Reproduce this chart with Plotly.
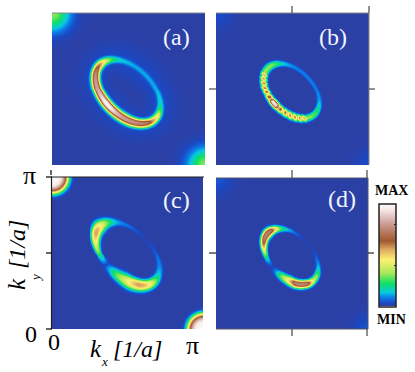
import numpy as np
import plotly.graph_objects as go

W, H = 415, 372
PI = np.pi

# --- values ---
panel_names = ["(a)", "(b)", "(c)", "(d)"]
panel_boxes = [(52, 205, 13, 165), (216, 369, 13, 165), (52, 203, 177, 329), (216, 368, 178, 329)]

# ring geometry in k units: centre kx, centre ky, semi-major, semi-minor
ring_a = (1.55, 1.53, 0.80, 0.50)
ring_b = (1.54, 1.54, 0.68, 0.44)
ring_c = (1.56, 1.57, 0.80, 0.48)
ring_d = (1.54, 1.52, 0.68, 0.44)

# intensity read around each ring, from the lower-right tip,
# through the upper-right flank, upper-left tip and lower-left flank
amp_a = [.46, .38, .24, .15, .12, .10, .09, .08, .08, .08, .08, .08, .09, .10, .13, .20, .30, .42,
         .54, .62, .70, .74, .76, .78, .82, .88, .96, .92, .84, .78, .76, .74, .72, .70, .66, .56]
amp_b = [.26, .24, .22, .20, .17, .15, .13, .11, .10, .09, .09, .08, .08, .08, .08, .08, .08, .08,
         .08, .08, .08, .08, .08, .09, .09, .10, .11, .12, .14, .16, .20, .24, .26, .28, .30, .30,
         .30, .31, .32, .33, .58, .34, .60, .34, .62, .36, .64, .36, .66, .38, .70, .52, .94, .94,
         .90, .52, .66, .38, .64, .36, .62, .36, .62, .34, .60, .34, .58, .32, .30, .30, .28, .27]
amp_c = [.30, .20, .13, .10, .08, .07, .05, .04, .02, .01, .04, .05, .07, .08, .11, .18, .28, .38,
         .46, .54, .56, .50, .42, .34, .26, .14, .03, .14, .26, .34, .42, .50, .56, .54, .48, .40]
amp_d = [.36, .32, .24, .15, .10, .07, .04, .02, .01, .01, .03, .05, .09, .12, .20, .32, .52, .70,
         .74, .74, .72, .62, .48, .34, .20, .08, .01, .10, .26, .38, .52, .70, .74, .74, .72, .54]

# ring width (sigma, in k units), equal angle steps, short list per panel
width_a = [.058, .040, .040, .062, .068, .072]
width_b = [.050, .034, .036, .058, .048, .056]
width_c = [.072, .032, .032, .100, .040, .100]
width_d = [.054, .030, .030, .070, .036, .070]

# corner spots: peak at (0, pi), peak at (pi, 0), radius, profile power
corner_a = (.30, .30, .34, 1.0)
corner_b = (.035, .035, .30, 1.0)
corner_c = (.98, .98, .325, 2.3)
corner_d = (.045, .045, .30, 1.0)

halo_levels = [.03, .0, .0, .0]

cbar_stops = [0, .03, .08, .13, .22, .32, .45, .55, .63, .72, .82, .92, 1]
cbar_colors = ["#2b40a5", "#1a48c4", "#0a7de8", "#08c8e0", "#10e060", "#a8e85a", "#fff070",
               "#dca860", "#a05a30", "#b87a62", "#d4a8a4", "#f2e2de", "#ffffff"]

rings = [ring_a, ring_b, ring_c, ring_d]
amps = [amp_a, amp_b, amp_c, amp_d]
widths = [width_a, width_b, width_c, width_d]
corners = [corner_a, corner_b, corner_c, corner_d]

axis_k = np.linspace(0, PI, 154)


def field(ring, amp, width, corner, halo):
    cx, cy, a, b = ring
    kx, ky = np.meshgrid(axis_k, axis_k)
    u = ((kx - cx) - (ky - cy)) / np.sqrt(2)
    v = ((kx - cx) + (ky - cy)) / np.sqrt(2)
    rho = np.sqrt((u / a) ** 2 + (v / b) ** 2) + 1e-9
    grad = np.sqrt((u / a**2) ** 2 + (v / b**2) ** 2) / rho + 1e-9
    dist = (rho - 1) / grad
    phi = np.degrees(np.arctan2(v / b, u / a)) % 360
    ang = np.arange(len(amp) + 1) * 360 / len(amp)
    A = np.interp(phi, ang, list(amp) + [amp[0]])
    angw = np.arange(len(width) + 1) * 360 / len(width)
    S = np.interp(phi, angw, list(width) + [width[0]])
    z = A * np.exp(-(np.abs(dist) / S) ** 2.5 / 2)
    z = z + halo * np.exp(-(dist / .22) ** 2 / 2)
    p0, p1, r, power = corner
    z = z + p0 * np.exp(-((kx**2 + (ky - PI) ** 2) / r**2) ** power)
    z = z + p1 * np.exp(-(((kx - PI) ** 2 + ky**2) / r**2) ** power)
    return np.clip(z, 0, 1)


fig = go.Figure()
for i, box in enumerate(panel_boxes):
    n = "" if i == 0 else str(i + 1)
    x0, x1, y0, y1 = box
    fig.add_trace(go.Heatmap(x=axis_k, y=axis_k,
                             z=field(rings[i], amps[i], widths[i], corners[i], halo_levels[i]),
                             coloraxis="coloraxis", xaxis="x" + n, yaxis="y" + n,
                             zsmooth="best", hoverinfo="skip"))
    fig.update_layout({
        "xaxis" + n: dict(domain=[x0 / W, x1 / W], range=[0, PI], visible=False, anchor="y" + n),
        "yaxis" + n: dict(domain=[1 - y1 / H, 1 - y0 / H], range=[0, PI], visible=False, anchor="x" + n),
    })

fig.update_layout(
    width=W, height=H, margin=dict(l=0, r=0, t=0, b=0),
    paper_bgcolor="white", plot_bgcolor="white", showlegend=False,
    coloraxis=dict(
        cmin=0, cmax=1,
        colorscale=[[s, c] for s, c in zip(cbar_stops, cbar_colors)],
        colorbar=dict(
            x=379 / W, xanchor="left", xpad=0, y=1 - 255 / H, yanchor="middle", ypad=0,
            thickness=17, thicknessmode="pixels", len=103, lenmode="pixels",
            outlinecolor="#222", outlinewidth=1.5,
            tickmode="array", tickvals=[.4, .8], ticktext=["", ""],
            ticks="inside", ticklen=2, tickcolor="#222", tickwidth=1),
    ),
)


def px_text(x, y, text, size, color="black", style="normal", weight="normal", angle=0, family="Liberation Serif"):
    fig.add_annotation(xref="paper", yref="paper", x=x / W, y=1 - y / H, text=text, showarrow=False,
                       textangle=angle, xanchor="center", yanchor="middle",
                       font=dict(family=family, size=size, color=color, style=style, weight=weight))


for (tx, ty), name in zip([(176, 37), (333, 37), (176, 200), (342, 199)], panel_names):
    px_text(tx, ty, name, 24, color="#f2f4ff")

px_text(29, 175, "π", 26)
px_text(31, 334, "0", 24)
px_text(54, 342, "0", 24)
px_text(192, 345, "π", 26)
px_text(96, 348, "k", 25, style="italic")
px_text(104, 361, "x", 13, style="italic")
px_text(137, 349, "[1/a]", 24, style="italic")
px_text(16, 284, "k", 25, style="italic", angle=-90)
px_text(35, 278, "y", 13, style="italic", angle=-90)
px_text(17, 245, "[1/a]", 24, style="italic", angle=-90)
px_text(391, 190, "MAX", 14, weight="bold")
px_text(391, 319, "MIN", 14, weight="bold")


def seg(x0, y0, x1, y1, color="#555", width=1.3):
    fig.add_shape(type="line", xref="paper", yref="paper", x0=x0 / W, x1=x1 / W, y0=1 - y0 / H, y1=1 - y1 / H,
                  line=dict(color=color, width=width))


seg(52, 13, 205, 13, "#888", 1)
seg(216, 13, 369, 13, "#888", 1)
seg(369, 13, 369, 165, "#888", 1)
seg(51, 177, 204, 177, "#222", 1.2)
seg(51.5, 177, 51.5, 329, "#222", 1.2)
seg(216, 178, 368, 178, "#556", 1)
seg(368, 178, 368, 329, "#556", 1)
seg(216, 329, 368, 329, "#556", 1)
seg(209, 89, 216, 89)
seg(369, 89, 375, 89)
seg(292, 6, 292, 13)
seg(369, 6, 369, 13)
seg(292, 170, 292, 178)
seg(367, 170, 367, 178)
seg(292, 329, 292, 336)
seg(367, 329, 367, 336)
seg(209, 253, 216, 253, "#333")
seg(368, 253, 374, 253, "#333")
seg(51, 170, 51, 175, "#111")
seg(46, 177, 52, 177, "#111")
seg(46, 253, 52, 253, "#111")
seg(46, 329, 52, 329, "#111")

fig.write_html("out.html", config={"displayModeBar": False},
               post_script="document.body.style.margin='0';document.documentElement.style.overflow='hidden';")
